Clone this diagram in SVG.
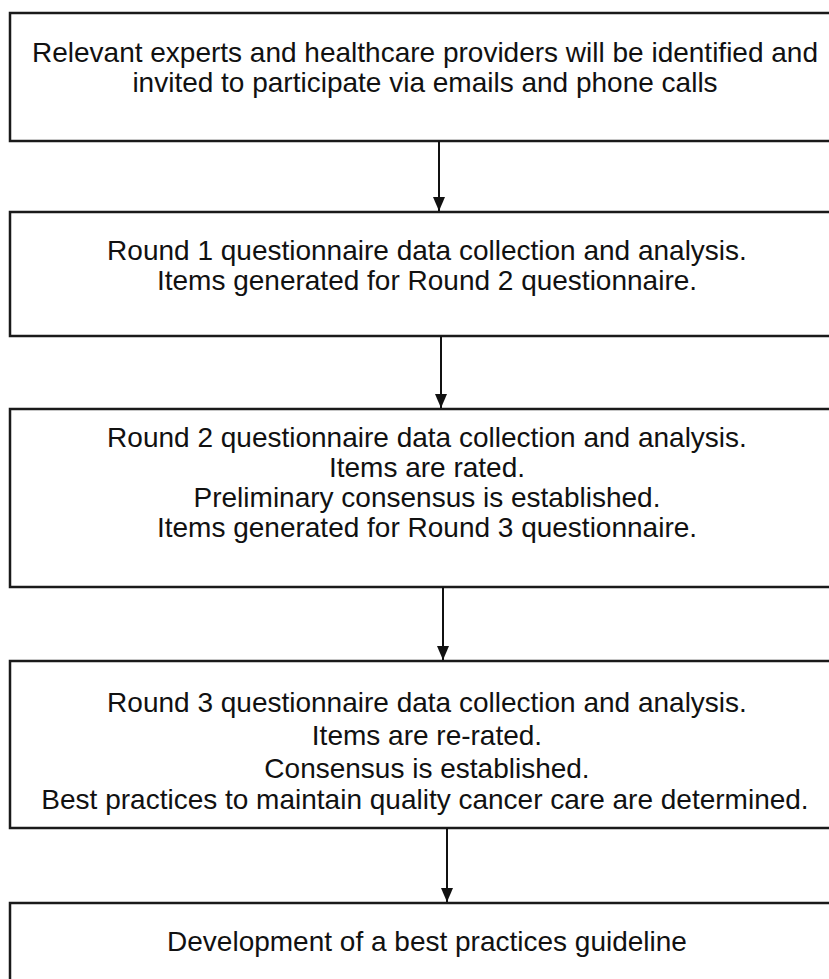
<svg xmlns="http://www.w3.org/2000/svg" width="829" height="979" viewBox="0 0 829 979">
<defs>
<marker id="ah" viewBox="0 0 14 12" refX="14" refY="6" markerWidth="14" markerHeight="12" markerUnits="userSpaceOnUse" orient="auto">
<path d="M0,0 L14,6 L0,12 Z" fill="#111"/>
</marker>
<style>
.box{fill:#fff;stroke:#1a1a1a;stroke-width:2.5}
.t{font-family:"Liberation Sans",Arial,sans-serif;font-size:28px;fill:#111;text-anchor:middle}
.c{stroke:#111;stroke-width:2;fill:none}
</style>
</defs>
<rect width="829" height="979" fill="#fff"/>
<g id="node1">
<rect class="box" x="10" y="13" width="840" height="128"/>
<text class="t" x="425" y="62">Relevant experts and healthcare providers will be identified and</text>
<text class="t" x="425" y="92">invited to participate via emails and phone calls</text>
</g>
<g id="node2">
<rect class="box" x="10" y="212" width="840" height="124"/>
<text class="t" x="427" y="260">Round 1 questionnaire data collection and analysis.</text>
<text class="t" x="427" y="290">Items generated for Round 2 questionnaire.</text>
</g>
<g id="node3">
<rect class="box" x="10" y="409" width="840" height="178"/>
<text class="t" x="427" y="447">Round 2 questionnaire data collection and analysis.</text>
<text class="t" x="427" y="477">Items are rated.</text>
<text class="t" x="427" y="507">Preliminary consensus is established.</text>
<text class="t" x="427" y="537">Items generated for Round 3 questionnaire.</text>
</g>
<g id="node4">
<rect class="box" x="10" y="661" width="840" height="167"/>
<text class="t" x="427" y="712">Round 3 questionnaire data collection and analysis.</text>
<text class="t" x="427" y="745">Items are re-rated.</text>
<text class="t" x="427" y="778">Consensus is established.</text>
<text class="t" x="425" y="809">Best practices to maintain quality cancer care are determined.</text>
</g>
<g id="node5">
<rect class="box" x="10" y="903" width="840" height="100"/>
<text class="t" x="427" y="951">Development of a best practices guideline</text>
</g>
<g id="connectors">
<line class="c" x1="439" y1="141" x2="439" y2="211" marker-end="url(#ah)"/>
<line class="c" x1="441" y1="336" x2="441" y2="408" marker-end="url(#ah)"/>
<line class="c" x1="443" y1="587" x2="443" y2="660" marker-end="url(#ah)"/>
<line class="c" x1="447" y1="828" x2="447" y2="902" marker-end="url(#ah)"/>
</g>
</svg>
